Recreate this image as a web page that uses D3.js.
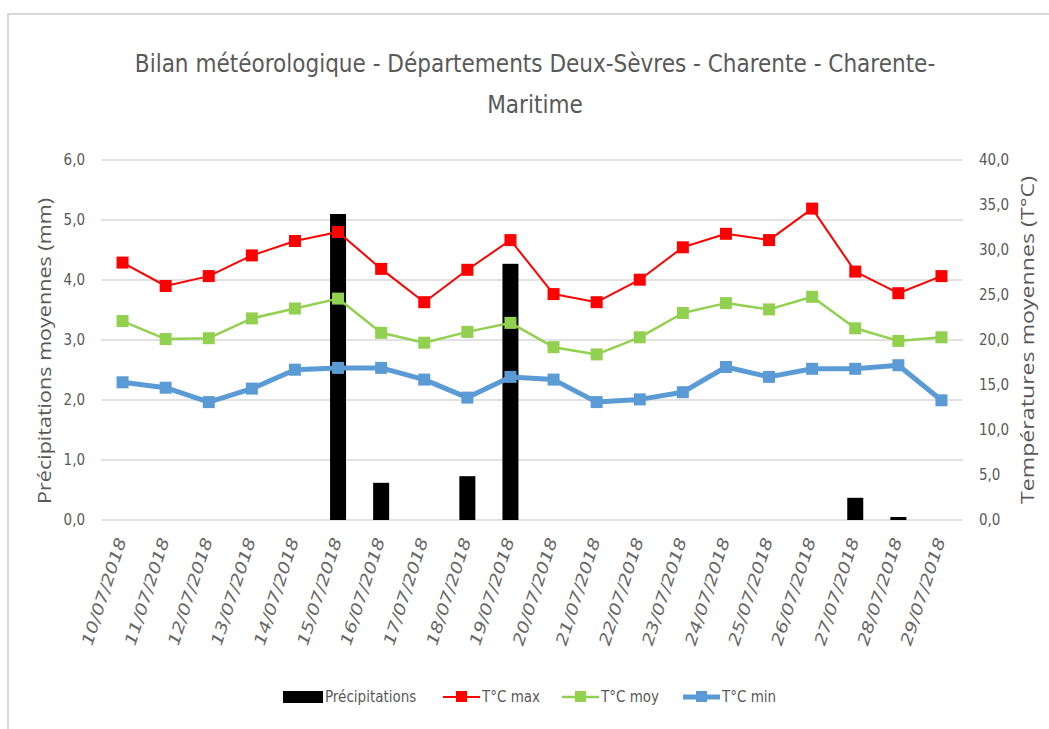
<!DOCTYPE html>
<html>
<head>
<meta charset="utf-8">
<script src="https://cdn.jsdelivr.net/npm/d3@7"></script>
<style>
  body { margin: 0; background: #fff; }
  svg text { font-family: "Liberation Sans Narrow", "DejaVu Sans Condensed", sans-serif; fill: #595959; }
</style>
</head>
<body>
<div id="chart"></div>
<script>
// Width and height
var chart_width  = 1049;
var chart_height = 729;

// data
var dates = ["10/07/2018","11/07/2018","12/07/2018","13/07/2018","14/07/2018","15/07/2018","16/07/2018",
  "17/07/2018","18/07/2018","19/07/2018","20/07/2018","21/07/2018","22/07/2018","23/07/2018","24/07/2018",
  "25/07/2018","26/07/2018","27/07/2018","28/07/2018","29/07/2018"];
var precip = [0, 0, 0, 0, 0, 5.1, 0.62, 0, 0.73, 4.27, 0, 0, 0, 0, 0, 0, 0, 0.37, 0.05, 0];
var t_max  = [28.6, 26.0, 27.1, 29.4, 31.0, 32.0, 27.9, 24.2, 27.8, 31.1, 25.1, 24.2, 26.7, 30.3, 31.8, 31.1, 34.6, 27.6, 25.2, 27.1];
var t_moy  = [22.1, 20.1, 20.2, 22.4, 23.5, 24.6, 20.8, 19.7, 20.9, 21.9, 19.2, 18.4, 20.3, 23.0, 24.1, 23.4, 24.8, 21.3, 19.9, 20.3];
var t_min  = [15.3, 14.7, 13.1, 14.6, 16.7, 16.9, 16.9, 15.6, 13.6, 15.9, 15.6, 13.1, 13.4, 14.2, 17.0, 15.9, 16.8, 16.8, 17.2, 13.3];
var left_ticks  = [0, 1, 2, 3, 4, 5, 6];
var right_ticks = [0, 5, 10, 15, 20, 25, 30, 35, 40];

var series = [
  {name: "T°C max", values: t_max, color: "#ff0000", width: 2},
  {name: "T°C moy", values: t_moy, color: "#92d050", width: 2.5},
  {name: "T°C min", values: t_min, color: "#5b9bd5", width: 5}
];

var fmt = function(v){ return d3.format(".1f")(v).replace(".", ","); };

// Create SVG
var svg = d3.select("#chart")
  .append("svg")
  .attr("width", chart_width)
  .attr("height", chart_height);

// frame
svg.append("rect")
  .attr("x", 8).attr("y", 14)
  .attr("width", 1100).attr("height", 800)
  .attr("fill", "none")
  .attr("stroke", "#d9d9d9")
  .attr("stroke-width", 2);

// scales
var x = d3.scaleBand().domain(dates).range([101, 963]);
var yL = d3.scaleLinear().domain([0, 6]).range([520, 160]);
var yR = d3.scaleLinear().domain([0, 40]).range([520, 160]);

// gridlines
svg.append("g")
  .selectAll("line")
  .data(left_ticks)
  .enter()
  .append("line")
  .attr("x1", 101).attr("x2", 963)
  .attr("y1", function(d){ return yL(d); })
  .attr("y2", function(d){ return yL(d); })
  .attr("stroke", "#d9d9d9")
  .attr("stroke-width", 1.5);

// left axis
var axL = svg.append("g")
  .attr("transform", "translate(91,0)")
  .call(d3.axisLeft(yL).tickValues(left_ticks).tickFormat(fmt).tickSize(0).tickPadding(6));
axL.select(".domain").remove();
axL.selectAll("text").style("font-size", "15px").attr("fill", "#595959");

// right axis
var axR = svg.append("g")
  .attr("transform", "translate(973,0)")
  .call(d3.axisRight(yR).tickValues(right_ticks).tickFormat(fmt).tickSize(0).tickPadding(6));
axR.select(".domain").remove();
axR.selectAll("text").style("font-size", "15px").attr("fill", "#595959");

// x labels
svg.append("g")
  .selectAll("text")
  .data(dates)
  .enter()
  .append("text")
  .attr("transform", function(d){
    return "translate(" + (x(d) + x.bandwidth()/2 + 4) + ",540) rotate(-72)";
  })
  .attr("text-anchor", "end")
  .attr("textLength", 112)
  .attr("lengthAdjust", "spacingAndGlyphs")
  .style("font-size", "16px")
  .style("font-style", "italic")
  .style("fill", "#666")
  .text(function(d){ return d; });

// bars
svg.append("g")
  .selectAll("rect")
  .data(precip)
  .enter()
  .append("rect")
  .attr("x", function(d, i){ return x(dates[i]) + x.bandwidth()/2 - 8; })
  .attr("width", 16)
  .attr("y", function(d){ return yL(d); })
  .attr("height", function(d){ return yL(0) - yL(d); })
  .attr("fill", "#000");

// lines
var line = d3.line()
  .x(function(d, i){ return x(dates[i]) + x.bandwidth()/2; })
  .y(function(d){ return yR(d); });

series.forEach(function(s){
  svg.append("path")
    .datum(s.values)
    .attr("d", line)
    .attr("fill", "none")
    .attr("stroke", s.color)
    .attr("stroke-width", s.width)
    .attr("stroke-linejoin", "round");
  svg.append("g")
    .selectAll("rect")
    .data(s.values)
    .enter()
    .append("rect")
    .attr("x", function(d, i){ return x(dates[i]) + x.bandwidth()/2 - 6; })
    .attr("y", function(d){ return yR(d) - 6; })
    .attr("width", 12)
    .attr("height", 12)
    .attr("fill", s.color);
});

// title
var title = svg.append("text")
  .attr("text-anchor", "middle")
  .style("font-size", "24px");
title.append("tspan").attr("x", 535).attr("y", 72)
  .text("Bilan météorologique - Départements Deux-Sèvres - Charente - Charente-");
title.append("tspan").attr("x", 535).attr("y", 113).text("Maritime");

// axis titles
svg.append("text")
  .attr("transform", "translate(51,351) rotate(-90)")
  .attr("text-anchor", "middle")
  .attr("textLength", 306)
  .attr("lengthAdjust", "spacingAndGlyphs")
  .style("font-family", "'Open Sans', sans-serif")
  .style("font-weight", "500")
  .style("font-size", "18px")
  .text("Précipitations moyennes (mm)");

svg.append("text")
  .attr("transform", "translate(1034,340) rotate(-90)")
  .attr("text-anchor", "middle")
  .attr("textLength", 328)
  .attr("lengthAdjust", "spacingAndGlyphs")
  .style("font-family", "'Open Sans', sans-serif")
  .style("font-weight", "500")
  .style("font-size", "18px")
  .text("Températures moyennes (T°C)");

// legend
var legend = svg.append("g").attr("transform", "translate(0,697)");
legend.append("rect").attr("x", 283).attr("y", -6).attr("width", 40).attr("height", 12).attr("fill", "#000");
legend.append("text").attr("x", 325).attr("y", 5).style("font-size", "15px").text("Précipitations");

var legend_pos = [443, 562, 683];
series.forEach(function(s, i){
  var lx = legend_pos[i];
  legend.append("line")
    .attr("x1", lx).attr("x2", lx + 37)
    .attr("y1", 0).attr("y2", 0)
    .attr("stroke", s.color)
    .attr("stroke-width", s.width);
  legend.append("rect")
    .attr("x", lx + 13).attr("y", -6)
    .attr("width", 11).attr("height", 11)
    .attr("fill", s.color);
  legend.append("text")
    .attr("x", lx + 39).attr("y", 5)
    .style("font-size", "15px")
    .text(s.name);
});
</script>
</body>
</html>
